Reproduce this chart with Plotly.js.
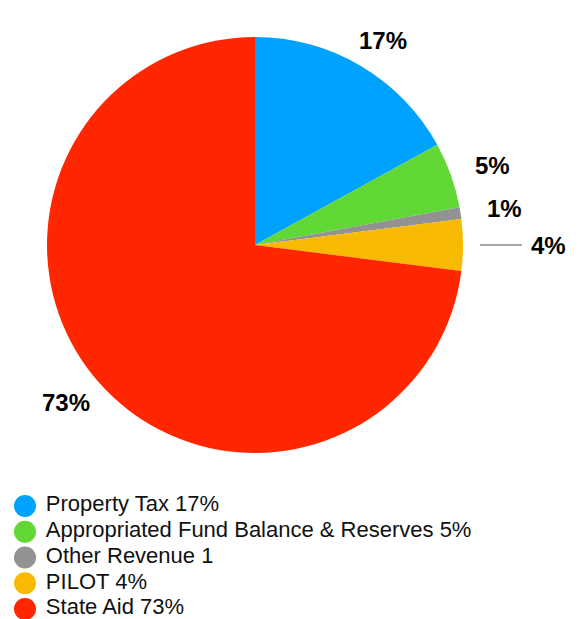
<!DOCTYPE html>
<html><head><meta charset="utf-8">
<script src="https://cdn.plot.ly/plotly-3.0.1.min.js"></script>
<style>html,body{margin:0;padding:0;background:#fff;} #chart{width:584px;height:619px;}</style>
</head><body><div id="chart"></div>
<script>
const categories = ['Property Tax', 'Appropriated Fund Balance & Reserves', 'Other Revenue', 'PILOT', 'State Aid'];
const values = [17.0, 5.1, 0.9, 4.0, 73.0];
const legendLabels = ['Property Tax 17%', 'Appropriated Fund Balance & Reserves 5%', 'Other Revenue 1', 'PILOT 4%', 'State Aid 73%'];
const colors = ['#00A2FF', '#61D836', '#929292', '#F8BA00', '#FF2600'];

const FONT = '"Liberation Sans", Arial, Helvetica, sans-serif';
const W = 584, H = 619;
const CX = 255, CY = 245, R = 208;

const pie = {
  type: 'pie',
  labels: categories,
  values: values,
  sort: false,
  direction: 'clockwise',
  rotation: 0,
  marker: { colors: colors, line: { width: 0 } },
  textinfo: 'none',
  hoverinfo: 'none',
  showlegend: false,
  domain: { x: [(CX - R) / W, (CX + R) / W], y: [(H - CY - R) / H, (H - CY + R) / H] }
};

// Percent labels placed around the pie at the mid-angle of each slice
const total = values.reduce((a, b) => a + b, 0);
let cum = 0;
const annotations = values.map((v, i) => {
  const mid = (cum + v / 2) / total * 2 * Math.PI;
  cum += v;
  const pct = Math.round(v / total * 100) + '%';
  const base = {
    xref: 'paper', yref: 'paper', text: pct,
    font: { family: FONT, size: 24, color: '#000', weight: 'bold' },
    xanchor: 'center', yanchor: 'middle'
  };
  if (i === 3) {
    // leader line for the PILOT slice
    const tipX = CX + (R + 17) * Math.sin(mid);
    const tipY = CY - (R + 17) * Math.cos(mid);
    return Object.assign(base, {
      x: tipX / W, y: 1 - tipY / H,
      showarrow: true, arrowhead: 0, arrowwidth: 1.5, arrowcolor: '#8a8a8a',
      ax: 68, ay: 0, standoff: 0, borderpad: 8
    });
  }
  const lx = CX + 252 * Math.sin(mid);
  const ly = CY - 238 * Math.cos(mid);
  return Object.assign(base, { x: lx / W, y: 1 - ly / H, showarrow: false });
});

const legendTrace = {
  type: 'scatter',
  mode: 'markers+text',
  x: legendLabels.map(() => 0),
  y: legendLabels,
  text: legendLabels.map(s => '\u00a0' + s),
  textposition: 'middle right',
  marker: { size: 22, color: colors, line: { width: 0 } },
  textfont: { family: FONT, size: 22, color: '#111' },
  cliponaxis: false,
  hoverinfo: 'skip',
  showlegend: false
};

const layout = {
  width: W, height: H,
  margin: { l: 0, r: 0, t: 0, b: 0 },
  paper_bgcolor: '#fff', plot_bgcolor: 'rgba(0,0,0,0)',
  showlegend: false,
  font: { family: FONT },
  annotations: annotations,
  xaxis: { visible: false, range: [-25, 559], domain: [0, 1], fixedrange: true },
  yaxis: { visible: false, type: 'category', range: [4.388, -0.419], domain: [0, 0.2], fixedrange: true }
};

Plotly.newPlot('chart', [pie, legendTrace], layout, { staticPlot: true, displayModeBar: false });
</script>
</body></html>
